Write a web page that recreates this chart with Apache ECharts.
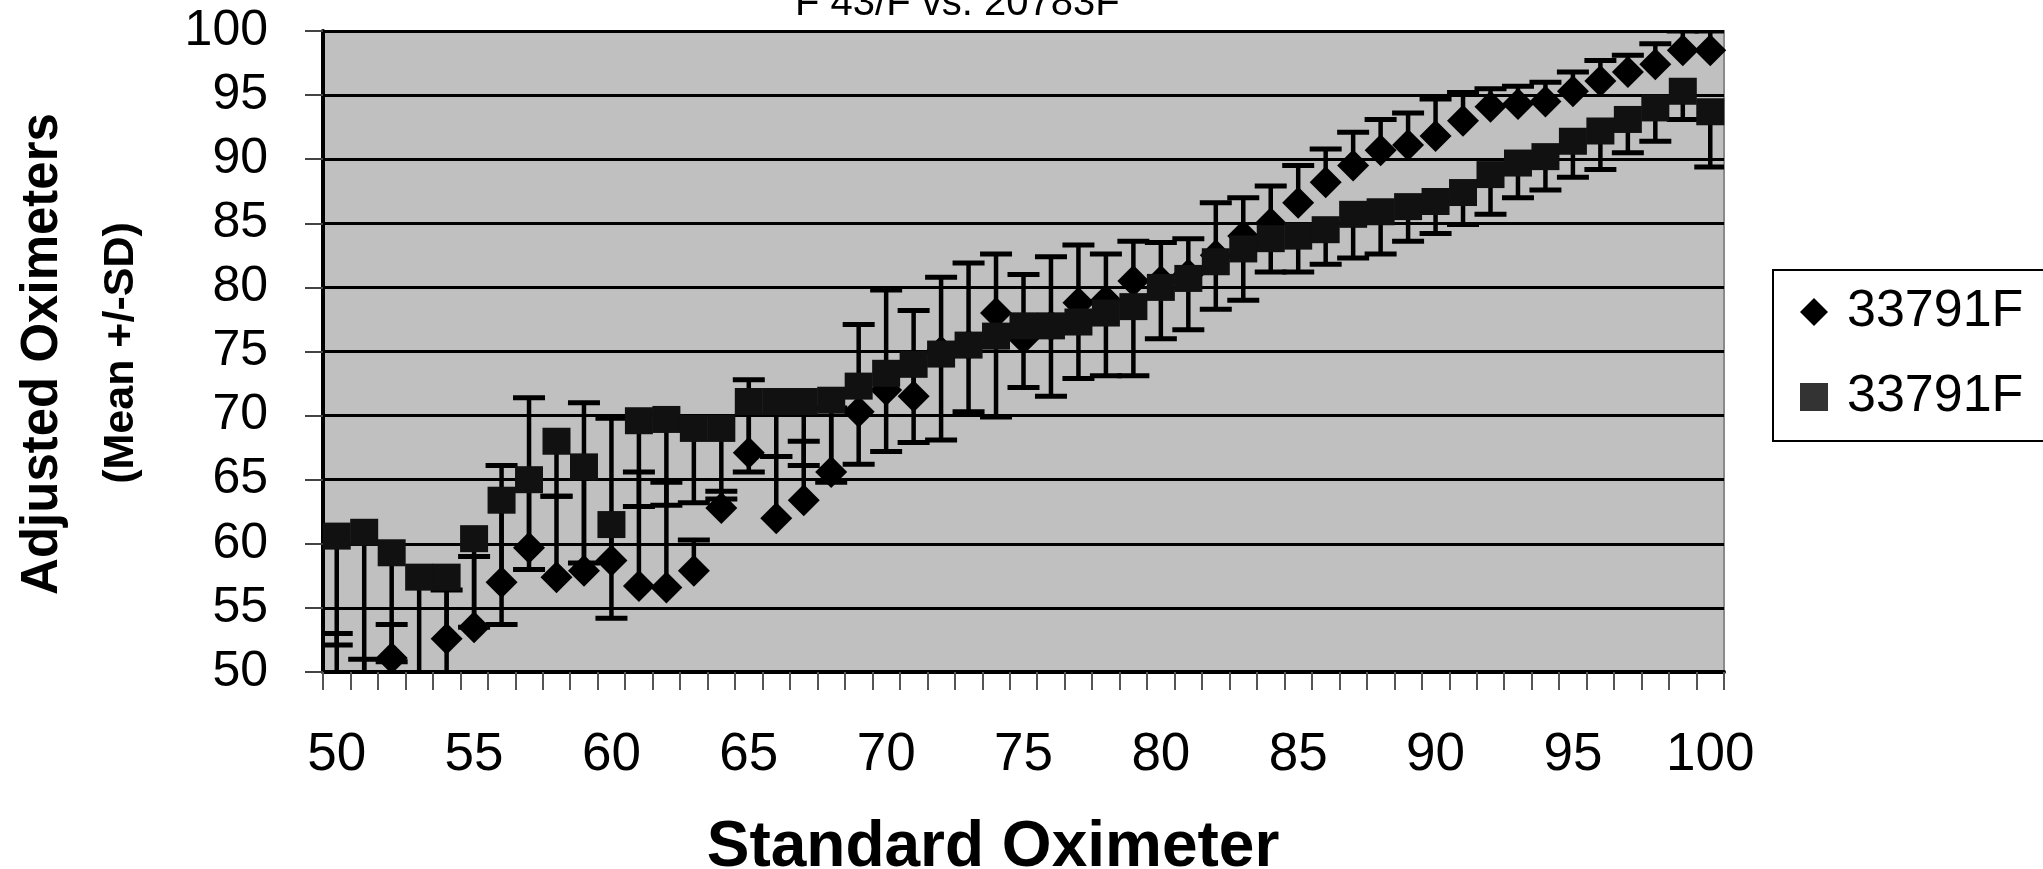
<!DOCTYPE html>
<html>
<head>
<meta charset="utf-8">
<script src="https://cdn.jsdelivr.net/npm/echarts@6/dist/echarts.min.js"></script>
<style>
html,body{margin:0;padding:0;background:#ffffff;}
#chart{width:2043px;height:869px;}
</style>
</head>
<body>
<div id="chart"></div>
<script>
// Standard oximeter reading (x categories)
const categories = ['50','51','52','53','54','55','56','57','58','59','60','61','62','63','64','65','66','67','68','69','70','71','72','73','74','75','76','77','78','79','80','81','82','83','84','85','86','87','88','89','90','91','92','93','94','95','96','97','98','99','100'];

// Series 1 (diamonds) mean and +SD
const diamondMean = [47.0,47.5,51.1,47.5,52.6,53.5,57.0,59.7,57.4,57.9,58.7,56.7,56.6,57.9,62.8,67.1,62.0,63.4,65.6,70.3,72.0,71.5,75.0,75.5,78.0,76.0,77.0,78.8,79.0,80.5,80.5,81.0,82.5,84.0,85.0,86.6,88.2,89.5,90.7,91.1,91.8,93.0,94.1,94.3,94.5,95.3,96.1,96.8,97.4,98.5,98.5];
const diamondSD   = [6.0,3.5,2.6,2.0,3.8,5.5,9.1,11.7,6.3,13.1,11.1,8.9,8.2,2.4,1.3,5.7,4.8,4.6,5.0,6.8,7.8,6.7,5.8,6.4,4.6,5.0,5.4,4.5,3.6,3.1,3.0,2.8,4.1,3.0,2.9,2.9,2.6,2.6,2.4,2.5,2.9,2.2,1.4,1.4,1.5,1.5,1.6,1.3,1.6,1.5,1.5];

// Series 2 (squares) mean and -SD
const squareMean = [60.6,60.9,59.3,57.4,57.4,60.4,63.4,65.0,68.0,66.0,61.5,69.6,69.7,69.0,69.0,71.1,71.1,71.1,71.2,72.3,73.3,74.0,74.8,75.5,76.2,77.0,77.0,77.3,78.0,78.5,80.0,80.7,82.0,83.0,83.8,84.0,84.5,85.7,85.9,86.3,86.7,87.4,88.8,89.7,90.2,91.4,92.2,93.1,94.0,95.3,93.7];
const squareSD   = [8.5,11.0,8.5,8.0,7.8,6.9,9.7,7.0,4.3,7.5,7.3,6.7,6.7,5.8,5.5,5.5,4.3,5.0,6.4,6.1,6.1,6.1,6.7,5.2,6.3,4.8,5.5,4.4,4.9,5.4,4.0,4.0,3.7,4.0,2.6,2.8,2.7,3.4,3.3,2.7,2.5,2.5,3.1,2.7,2.6,2.8,3.0,2.6,2.6,2.2,4.3];

// Legend labels (the reference shows both as "33791F", cut at the right edge)
const seriesNames = ['33791F', '33791F '];
const yMin = 50, yMax = 100, yStep = 5;

const diamondBars = categories.map((c, i) => [i, diamondMean[i], diamondMean[i] + diamondSD[i]]);
const squareBars  = categories.map((c, i) => [i, squareMean[i], squareMean[i] - squareSD[i]]);

function barRenderer(params, api) {
  const i = api.value(0);
  const a = api.coord([i, api.value(1)]);
  const b = api.coord([i, api.value(2)]);
  const half = 16;
  return {
    type: 'group',
    children: [
      {type: 'line', shape: {x1: a[0], y1: a[1], x2: b[0], y2: b[1]}, style: {stroke: '#000', lineWidth: 4.5}},
      {type: 'line', shape: {x1: b[0] - half, y1: b[1], x2: b[0] + half, y2: b[1]}, style: {stroke: '#000', lineWidth: 5}}
    ]
  };
}

const chart = echarts.init(document.getElementById('chart'), null, {renderer: 'canvas'});
const FONT = "'Liberation Sans', Arial, sans-serif";

chart.setOption({
  animation: false,
  backgroundColor: '#ffffff',
  grid: {
    left: 323, right: 319, top: 31, bottom: 197,
    show: true, backgroundColor: '#c0c0c0', borderColor: '#8a8a8a', borderWidth: 2
  },
  legend: {
    orient: 'vertical',
    left: 1773, top: 270,
    padding: [14, 200, 16, 27],
    itemGap: 29,
    itemWidth: 28, itemHeight: 28,
    borderColor: '#000', borderWidth: 2,
    backgroundColor: '#ffffff',
    selectedMode: false,
    textStyle: {fontFamily: FONT, fontSize: 52, color: '#000', lineHeight: 56, padding: [0, 0, 0, 14]},
    data: [
      {name: seriesNames[0], icon: 'diamond', itemStyle: {color: '#000', opacity: 1}},
      {name: seriesNames[1], icon: 'rect', itemStyle: {color: '#333', opacity: 1}}
    ]
  },
  xAxis: {
    type: 'category',
    data: categories,
    boundaryGap: true,
    axisLine: {show: true, onZero: false, lineStyle: {color: '#000', width: 4}},
    axisTick: {show: true, interval: 0, length: 18, lineStyle: {color: '#555', width: 2}},
    axisLabel: {interval: 4, margin: 57, fontFamily: FONT, fontSize: 53, color: '#000'},
    splitLine: {show: false}
  },
  yAxis: {
    type: 'value',
    min: yMin, max: yMax, interval: yStep,
    axisLine: {show: true, lineStyle: {color: '#000', width: 4}},
    axisTick: {show: true, length: 18, lineStyle: {color: '#444', width: 2}},
    axisLabel: {margin: 55, fontFamily: FONT, fontSize: 50, color: '#000'},
    splitLine: {show: true, lineStyle: {color: '#000', width: 3}}
  },
  graphic: [
    {type: 'text', left: 795, top: -16, silent: true,
     style: {text: 'F 43/F vs. 20783F', font: "40px 'Liberation Sans', Arial, sans-serif", fill: '#000'}},
    {type: 'text', x: 43, y: 354, rotation: Math.PI / 2, silent: true,
     style: {text: 'Adjusted Oximeters', font: "bold 51px 'Liberation Sans', Arial, sans-serif",
             fill: '#000', align: 'center', verticalAlign: 'middle'}},
    {type: 'text', x: 121, y: 353, rotation: Math.PI / 2, silent: true,
     style: {text: '(Mean +/-SD)', font: "bold 43px 'Liberation Sans', Arial, sans-serif",
             fill: '#000', align: 'center', verticalAlign: 'middle'}},
    {type: 'text', x: 993, y: 848, silent: true,
     style: {text: 'Standard Oximeter', font: "bold 64px 'Liberation Sans', Arial, sans-serif",
             fill: '#000', align: 'center', verticalAlign: 'middle'}}
  ],
  series: [
    {
      type: 'custom', name: 'SD1', renderItem: barRenderer, clip: true, z: 2,
      encode: {x: 0, y: [1, 2]}, data: diamondBars, silent: true
    },
    {
      type: 'scatter', name: seriesNames[0], data: diamondMean, symbol: 'diamond', symbolSize: 32,
      itemStyle: {color: '#000', opacity: 1}, z: 3, clip: true
    },
    {
      type: 'custom', name: 'SD2', renderItem: barRenderer, clip: true, z: 4,
      encode: {x: 0, y: [1, 2]}, data: squareBars, silent: true
    },
    {
      type: 'scatter', name: seriesNames[1], data: squareMean, symbol: 'rect', symbolSize: [28, 27],
      itemStyle: {color: '#111', opacity: 1}, z: 5, clip: true
    }
  ]
});
</script>
</body>
</html>
